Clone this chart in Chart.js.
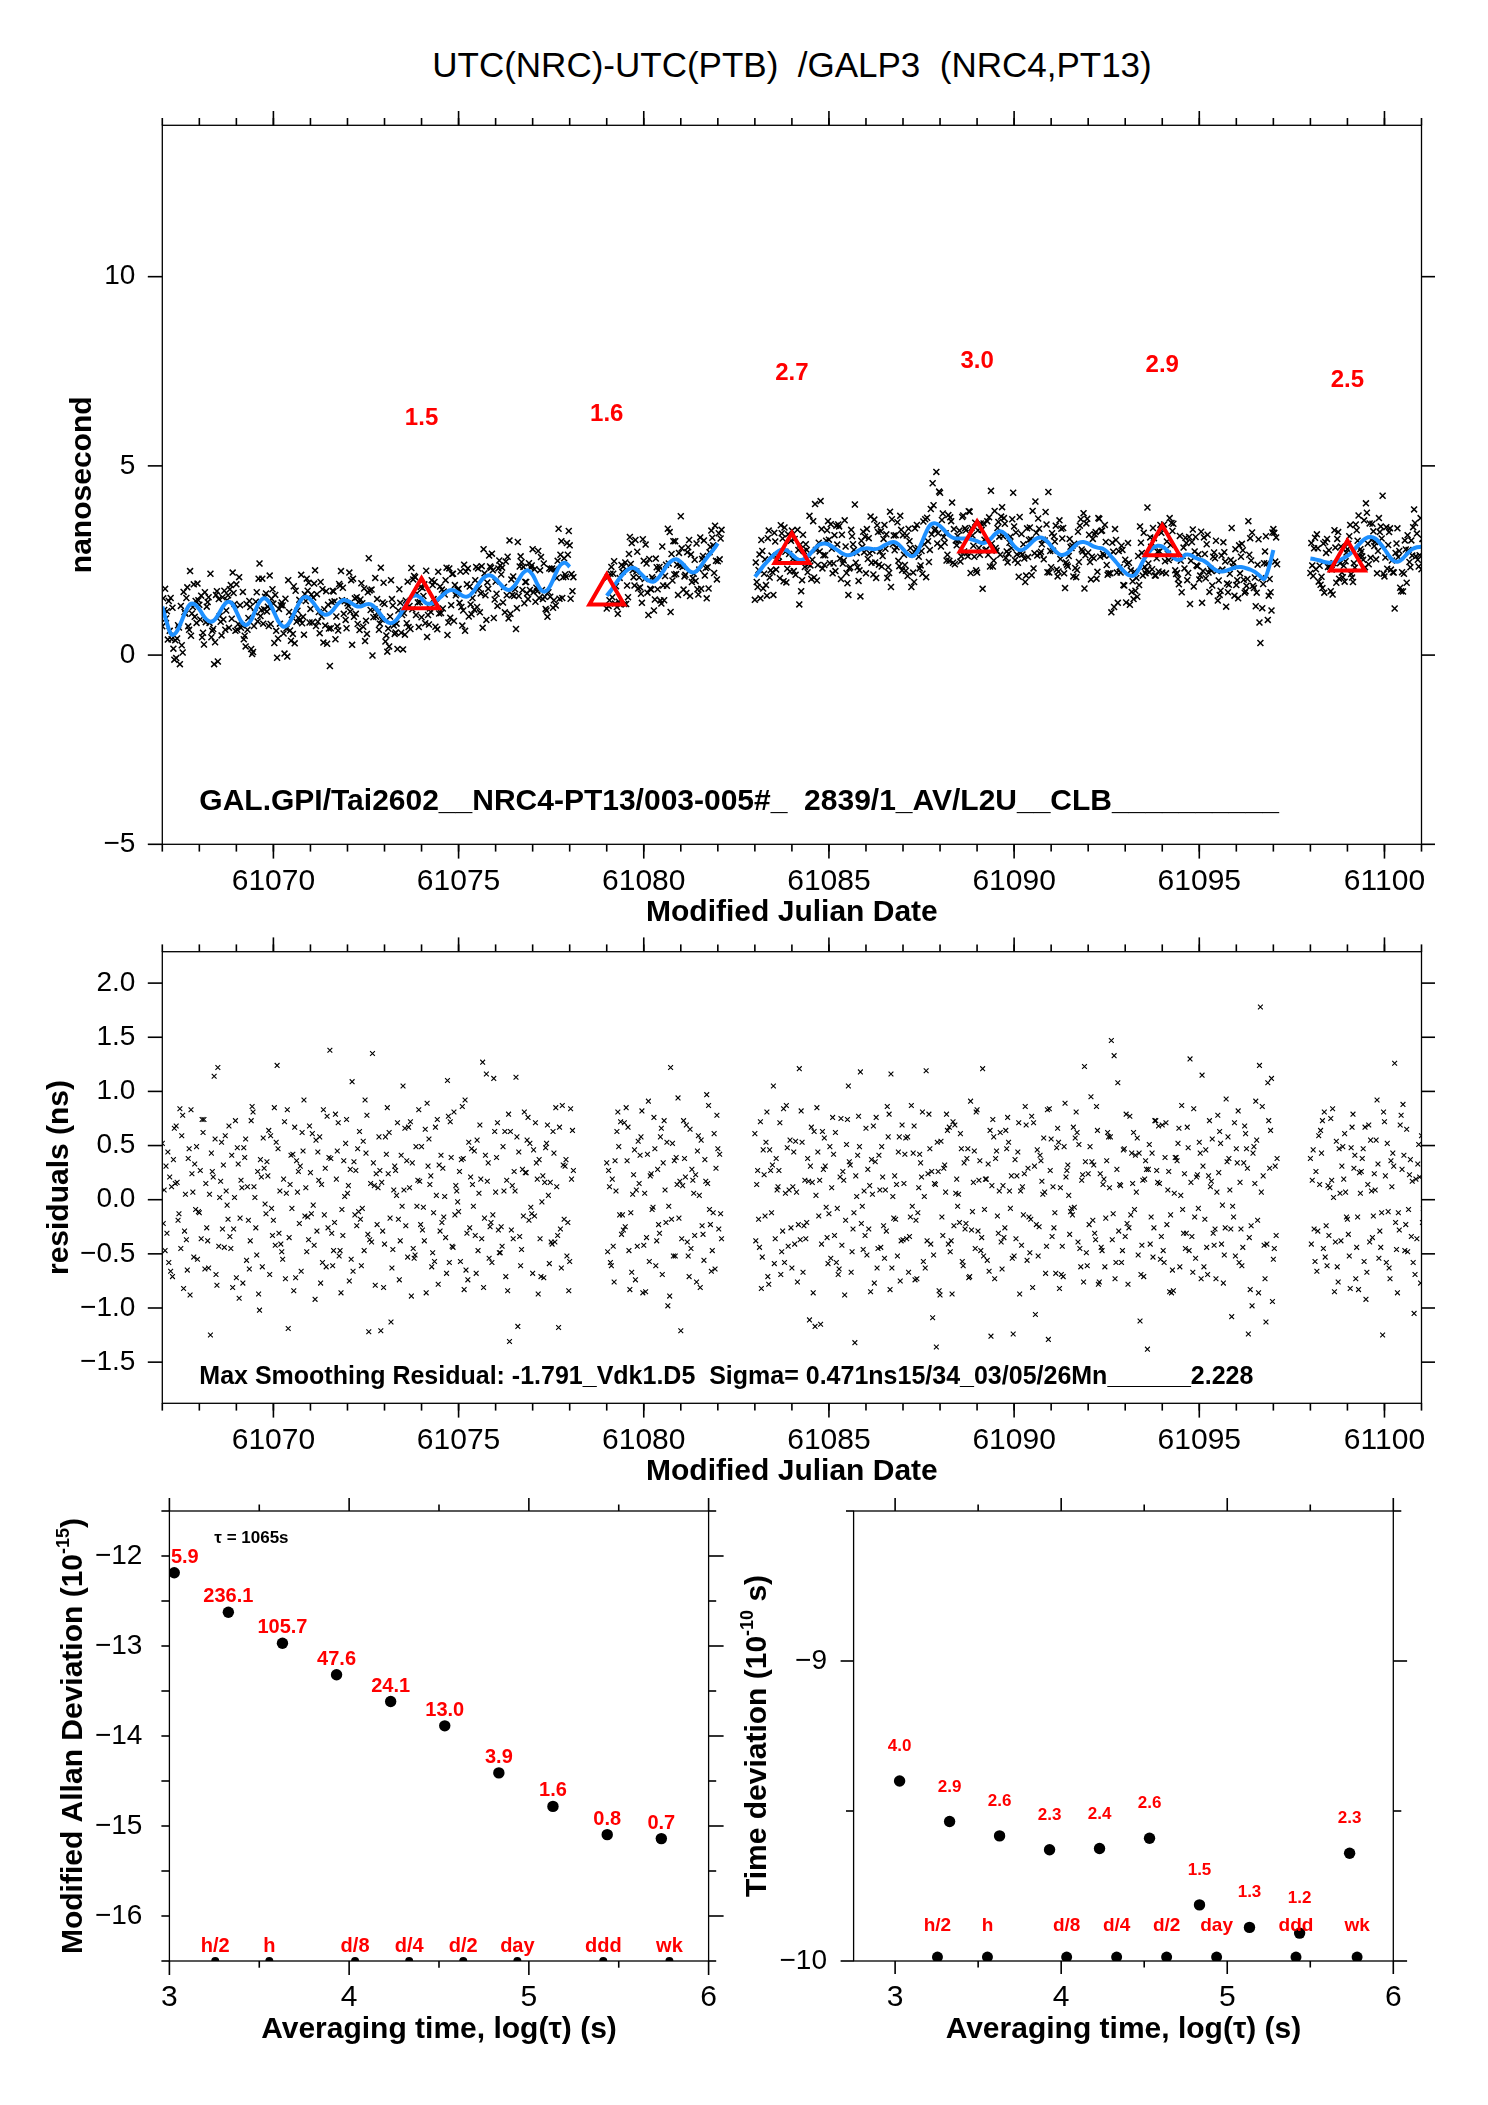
<!DOCTYPE html>
<html>
<head>
<meta charset="utf-8">
<title>UTC(NRC)-UTC(PTB) /GALP3 (NRC4,PT13)</title>
<script src="https://cdn.jsdelivr.net/npm/chart.js@4.4.1/dist/chart.umd.min.js"></script>
<style>
  html, body { margin:0; padding:0; background:#fff; }
  body { width:1488px; height:2105px; position:relative; overflow:hidden; }
  canvas { position:absolute; }
  #title { position:absolute; left:162px; width:1260px; top:47px; height:35px; line-height:35px;
           text-align:center; font-size:35px; font-family:'Liberation Sans', Arial, Helvetica, sans-serif;
           white-space:pre; color:#000; }
</style>
</head>
<body>
<div id="title">UTC(NRC)-UTC(PTB)  /GALP3  (NRC4,PT13)</div>
<canvas id="c1" width="1488" height="850" style="left:0;top:95px"></canvas>
<canvas id="c2" width="1488" height="565" style="left:0;top:925px"></canvas>
<canvas id="c3" width="730" height="615" style="left:0;top:1490px"></canvas>
<canvas id="c4" width="758" height="615" style="left:730px;top:1490px"></canvas>
<script>
const FF = "'Liberation Sans', Arial, Helvetica, sans-serif";

// ---------------- DATA ----------------
// MJD segments of the data (gaps in between) and sampling step (days)
const mjdSegments = [[61067, 61078], [61079, 61082], [61083, 61097], [61098, 61101]];
const knotStep = 0.125;
const subOffsets = [0, 0.025, 0.05, 0.075, 0.1];   // x offsets (days) of the five residual series

// smoothed curve (ns) read at every knot, segment by segment
const smoothNs = [
  // 61067.000 - 61078.000
  1.28,0.85,0.54,0.60,0.85,1.14,1.34,1.34,
  1.21,1.02,0.90,0.90,1.05,1.26,1.40,1.37,
  1.15,0.90,0.79,0.89,1.15,1.40,1.50,1.41,
  1.17,0.91,0.76,0.79,0.98,1.24,1.46,1.54,
  1.47,1.32,1.16,1.07,1.09,1.21,1.36,1.45,
  1.43,1.36,1.29,1.29,1.34,1.34,1.25,1.10,
  0.94,0.85,0.87,1.00,1.20,1.41,1.55,1.57,
  1.49,1.37,1.36,1.42,1.52,1.63,1.71,1.71,
  1.64,1.56,1.55,1.65,1.82,1.99,2.09,2.10,
  2.01,1.88,1.76,1.72,1.82,2.00,2.18,2.24,
  2.12,1.88,1.70,1.70,1.88,2.16,2.38,2.44,
  2.33,
  // 61079.000 - 61082.000
  1.57,1.72,1.90,2.06,2.20,2.29,2.30,2.20,
  2.07,1.97,1.94,2.02,2.18,2.36,2.49,2.53,
  2.46,2.33,2.21,2.19,2.30,2.47,2.63,2.78,
  2.95,
  // 61083.000 - 61097.000
  2.07,2.22,2.38,2.51,2.64,2.74,2.79,2.76,
  2.66,2.55,2.51,2.57,2.68,2.82,2.92,2.95,
  2.92,2.84,2.76,2.68,2.64,2.66,2.73,2.80,
  2.82,2.81,2.80,2.83,2.90,2.96,2.99,2.93,
  2.80,2.67,2.61,2.71,2.96,3.25,3.45,3.48,
  3.41,3.29,3.16,3.09,3.08,3.08,3.08,3.05,
  3.01,2.96,2.98,3.08,3.21,3.27,3.21,3.05,
  2.88,2.78,2.79,2.88,3.00,3.09,3.10,3.02,
  2.88,2.74,2.65,2.66,2.75,2.87,2.97,2.99,
  2.95,2.88,2.84,2.82,2.74,2.60,2.46,2.31,
  2.18,2.10,2.11,2.28,2.52,2.70,2.83,2.89,
  2.87,2.77,2.63,2.53,2.53,2.65,2.65,2.58,
  2.53,2.49,2.40,2.29,2.22,2.21,2.24,2.28,
  2.32,2.33,2.30,2.26,2.20,2.10,2.01,2.30,
  2.78,
  // 61098.000 - 61101.000
  2.55,2.53,2.50,2.46,2.44,2.45,2.49,2.55,
  2.62,2.72,2.86,2.99,3.09,3.12,3.08,2.96,
  2.80,2.62,2.49,2.47,2.56,2.69,2.80,2.85,
  2.86
];

// smoothing residuals (ns) = smooth - measurement, five interleaved series
const residA = [
  0.52,-0.31,0.12,0.68,-0.45,0.05,-0.88,0.33,
  -0.12,0.74,-0.63,0.21,1.22,-0.27,-0.05,0.41,
  -0.72,0.18,0.56,-0.38,0.02,-1.02,0.29,0.64,
  -0.19,0.47,-0.55,0.83,-0.08,0.36,-0.66,0.11,
  0.25,-0.92,0.58,-0.14,0.39,-0.47,0.71,-0.33,
  0.06,1.09,-0.24,-0.61,0.43,0.15,-0.79,0.27,
  -0.41,0.62,0.09,-0.18,1.05,-0.53,0.34,-0.06,
  0.49,-0.86,0.22,0.67,-0.29,0.03,-0.58,0.81,
  -0.11,0.38,-0.74,0.14,0.55,-0.36,1.16,-0.21,
  0.07,-0.49,0.63,-1.31,0.26,0.44,-0.15,0.76,
  -0.68,0.19,-0.02,0.52,-0.39,0.85,-0.27,0.31,
  -0.57,
  0.34,-0.61,0.08,0.72,-0.25,-0.83,0.46,0.15,
  -0.42,0.91,-0.07,0.28,-0.69,0.53,-0.18,0.39,
  -1.21,0.21,0.65,-0.33,0.04,-0.56,0.87,-0.12,
  0.47,
  0.61,-0.44,0.23,-0.78,1.05,0.12,-0.29,0.48,
  -0.63,0.07,0.82,-0.36,0.31,-1.17,0.18,0.57,
  -0.13,0.42,-0.69,0.26,0.74,-0.48,0.03,-0.22,
  0.66,-0.85,0.35,0.09,-0.54,0.79,-0.17,0.44,
  -0.37,0.58,-0.06,-0.73,0.21,1.19,-0.41,0.14,
  -0.88,0.32,0.67,-0.24,0.05,-0.61,0.47,-0.11,
  0.83,-0.35,0.19,-1.26,0.38,0.62,-0.26,0.08,
  -0.52,0.71,-0.14,0.29,-0.81,0.46,0.17,-0.43,
  0.56,-0.68,0.11,0.89,-0.32,-0.07,0.51,-0.76,
  0.24,-0.19,0.64,-0.47,0.36,1.47,-0.58,0.13,
  -0.34,0.77,-0.09,0.43,-0.71,0.28,-0.53,0.16,
  0.69,-0.23,-0.86,0.39,0.04,-0.45,1.30,-0.16,
  0.53,-0.62,0.22,-0.31,0.78,-0.05,0.35,-1.08,
  0.47,-0.27,0.61,-0.83,0.15,1.24,-0.42,0.73,
  -0.55,
  0.38,-0.57,0.14,0.81,-0.33,0.02,-0.76,0.49,
  -0.18,0.67,-0.44,0.26,-0.92,0.55,0.09,-0.29,
  0.72,-0.63,0.31,-0.12,0.88,-0.48,0.17,-0.36,
  0.59
];
const residB = [
  -0.22,0.44,-0.71,0.16,0.59,-0.37,0.83,-0.09,
  0.27,-0.64,0.05,1.14,-0.43,0.32,-0.18,-0.81,
  0.48,0.11,-0.56,0.73,-0.26,0.37,-0.04,-0.69,
  0.85,-0.31,0.19,-1.19,0.42,0.07,0.62,-0.48,
  -0.13,0.55,-0.77,0.29,1.38,-0.21,-0.52,0.36,
  0.13,-0.66,0.47,-0.08,0.78,-0.39,0.24,-1.21,
  0.58,-0.17,0.31,-0.74,0.09,0.67,-0.45,0.18,
  -0.28,0.89,-0.62,0.04,0.41,-0.35,0.72,-0.14,
  0.26,-0.83,0.53,-0.06,-0.47,1.27,0.17,-0.58,
  0.39,-0.25,-0.71,0.63,0.08,-0.34,0.81,-0.19,
  0.46,-0.87,0.22,0.69,-0.41,0.12,-0.63,0.37,
  0.84,
  -0.48,0.19,0.63,-0.32,0.85,-0.12,-0.74,0.41,
  0.06,-0.57,0.76,-0.23,0.34,-0.98,0.52,0.14,
  -0.36,0.69,-0.45,0.23,-0.81,0.37,-0.09,0.61,
  -0.27,
  -0.38,0.72,-0.15,0.46,-0.59,0.27,0.84,-0.43,
  0.12,-0.76,0.53,-0.21,0.67,0.04,-1.15,0.31,
  0.49,-0.33,-0.64,0.18,1.05,-0.27,0.41,-0.06,
  -0.51,0.37,0.76,-0.44,0.09,-0.83,0.22,0.58,
  0.15,-0.67,0.43,-0.12,0.81,-0.38,0.26,-1.36,
  0.54,0.07,-0.48,0.69,-0.21,0.34,-0.72,0.16,
  -0.29,1.21,-0.56,0.13,0.45,-0.39,0.64,-0.08,
  0.37,-0.87,0.24,-0.16,0.71,-0.52,0.05,0.83,
  -0.34,0.48,-0.69,0.21,-0.11,0.57,-0.45,1.23,
  -0.23,0.32,-0.78,0.14,0.62,-0.37,0.28,-0.58,
  0.79,-0.14,0.41,-1.12,0.19,0.51,-0.26,0.68,
  -0.47,0.09,-0.65,0.36,0.87,-0.31,0.16,-0.54,
  0.43,-0.18,0.73,-0.42,0.25,-0.77,0.58,-0.06,
  0.34,-0.61,0.47,-0.24,0.91,1.78,-0.73,0.29,
  -0.45,
  -0.41,0.26,0.64,-0.53,0.11,-0.85,0.47,0.19,
  -0.32,0.79,-0.16,0.38,-0.67,0.08,0.55,-0.44,
  0.22,-0.73,1.26,-0.28,0.41,-0.09,-0.58,0.33,
  -0.21
];
const residC = [
  0.09,-0.58,0.37,-0.19,0.78,-0.65,0.24,0.49,
  -0.36,0.15,-1.25,0.56,0.02,-0.44,0.68,-0.27,
  0.33,-0.77,0.12,0.86,-0.51,0.21,-0.13,0.59,
  -0.42,0.08,0.72,-0.35,-0.84,0.26,0.45,-0.16,
  0.61,-0.29,0.14,-0.62,0.38,0.79,-0.47,0.03,
  -0.75,0.35,-0.11,0.54,-0.32,1.35,-0.23,0.16,
  0.42,-1.13,0.27,-0.38,0.66,0.11,-0.54,0.83,
  -0.07,0.31,-0.49,0.74,-0.21,-0.68,0.39,0.13,
  -0.57,0.92,-0.26,0.45,0.06,-0.81,0.34,-0.14,
  0.71,-0.43,0.18,-0.28,1.13,-0.61,0.25,0.52,
  -0.15,0.37,-0.72,0.04,0.63,-0.33,0.87,-0.52,
  0.19,
  0.27,-0.43,0.81,-0.14,0.36,-0.67,0.09,0.58,
  -0.85,0.22,0.47,-0.31,0.73,-0.06,-0.52,0.94,
  0.13,-0.39,0.28,-0.76,0.55,0.17,-0.23,-0.64,
  0.42,
  0.14,-0.82,0.53,0.27,-0.36,0.71,-0.58,0.09,
  0.44,-0.23,-0.67,0.38,0.16,0.85,-0.41,-0.07,
  -0.54,0.62,0.21,-0.88,0.35,-0.12,0.77,-0.46,
  0.28,0.05,-0.63,0.49,-0.29,1.16,-0.18,-0.75,
  0.42,-0.34,0.68,0.11,-0.57,0.24,-1.09,0.53,
  -0.16,0.79,-0.38,0.06,0.61,-0.27,-0.71,0.45,
  0.18,-0.52,0.33,0.74,-0.15,-0.64,0.47,0.22,
  -0.36,0.08,0.86,-0.49,0.31,-0.25,0.57,-1.29,
  0.12,0.66,-0.43,0.27,-0.08,0.81,-0.62,0.35,
  0.49,-0.31,-0.76,0.19,0.58,-0.13,1.08,-0.47,
  -0.22,0.43,0.07,-0.69,0.36,-0.41,0.73,0.15,
  -0.58,0.26,-0.84,0.52,-0.09,0.67,-0.34,0.21,
  -0.73,0.46,0.12,-0.27,0.63,-0.51,0.38,-0.16,
  0.82,-0.44,0.29,-0.98,0.55,0.07,-1.13,0.64,
  0.31,
  0.18,-0.66,0.43,-0.24,0.75,-0.39,0.06,0.61,
  -0.52,0.29,-0.83,0.47,0.14,-0.35,0.92,-0.12,
  -0.58,0.36,-0.21,0.69,-0.47,0.23,-1.05,0.51,
  -0.08
];
const residD = [
  -0.47,0.21,0.66,-0.13,-0.82,0.38,0.07,-0.55,
  0.74,-0.26,0.43,-0.69,0.17,0.59,-0.34,0.02,
  -0.91,0.48,-0.19,0.81,0.26,-0.62,0.35,-0.08,
  0.53,-0.41,-0.73,0.14,0.67,-0.22,0.92,-0.37,
  -0.05,0.44,-0.58,0.77,-0.31,0.19,-0.86,0.52,
  0.28,-0.14,0.63,-0.47,-1.22,0.34,0.11,-0.29,
  0.85,-0.63,0.04,0.41,-0.24,0.72,-0.51,0.17,
  -0.38,0.56,-0.12,-0.78,0.29,1.10,-0.43,0.08,
  0.37,-0.65,0.21,-0.33,0.69,-0.17,-0.54,1.12,
  -0.28,0.49,-0.84,0.13,0.58,-0.46,0.25,-0.07,
  0.71,-0.36,0.16,-0.59,0.43,-1.18,0.32,-0.21,
  0.64,
  0.12,-0.76,0.49,-0.28,0.67,0.05,-0.43,0.82,
  -0.35,0.24,-0.61,0.58,0.09,-0.89,0.36,-0.17,
  0.73,-0.52,0.18,0.45,-0.24,0.97,-0.66,0.29,
  -0.13,
  0.27,-0.53,0.81,-0.12,0.38,-0.69,0.06,0.55,
  -0.41,1.21,-0.24,0.17,-0.86,0.44,0.63,-0.35,
  0.11,-0.58,0.75,-0.19,0.32,-1.32,0.49,0.08,
  -0.27,0.68,-0.45,0.21,0.86,-0.63,0.14,-0.38,
  0.57,-0.16,-0.74,0.42,0.03,0.79,-0.51,0.26,
  -0.33,0.64,-0.87,0.19,0.47,-0.22,0.91,-0.45,
  0.36,-0.09,-0.66,0.58,-0.31,0.13,0.76,-0.54,
  0.22,-0.42,0.69,-0.18,-1.06,0.41,0.07,0.84,
  -0.26,0.53,-0.71,0.32,-0.14,0.62,0.18,-0.49,
  0.95,-0.37,0.24,-0.62,0.11,1.33,-0.29,0.46,
  -0.78,0.15,0.57,-0.42,0.28,-0.16,0.73,-0.55,
  0.39,-0.85,0.06,0.66,-0.31,0.48,-0.67,0.23,
  1.15,-0.44,0.17,-0.73,0.52,-0.26,0.09,0.71,
  -0.58,0.34,-1.24,0.43,-0.19,0.86,-0.41,1.12,
  -0.33,
  0.46,-0.29,0.73,-0.61,0.18,0.54,-0.38,0.07,
  -0.82,0.41,0.25,-0.57,0.69,-0.15,0.33,-1.25,
  0.52,0.12,-0.46,0.78,-0.23,0.37,-0.69,0.21,
  0.04
];
const residE = [
  0.31,-0.66,0.15,0.84,-0.29,0.47,-0.53,-0.11,
  0.62,-0.38,0.26,-0.79,0.53,0.08,-0.45,0.73,
  -0.17,0.39,-0.64,0.12,-0.87,0.57,0.22,-0.33,
  1.24,-0.48,0.06,0.41,-0.72,0.31,-0.15,0.68,
  -0.42,0.18,0.83,-0.26,-0.61,0.45,-0.09,0.74,
  -0.55,0.27,-0.18,0.92,-0.37,0.13,0.58,-0.81,
  0.24,-0.46,0.71,-0.06,0.36,-0.89,0.49,-0.23,
  0.65,0.14,-0.57,0.32,-0.16,0.77,-0.44,-0.02,
  0.86,-0.31,0.47,-0.68,0.19,0.41,-0.25,0.63,
  -0.49,0.08,0.79,-0.36,-1.17,0.28,0.55,-0.13,
  0.34,-0.71,0.48,0.16,-0.39,0.67,-0.18,-0.84,
  0.27,
  -0.58,0.36,-0.14,0.71,-0.47,0.23,0.54,-0.86,
  0.42,-0.09,-0.38,0.66,-0.21,1.22,-0.52,0.17,
  0.38,-0.71,0.06,0.59,-0.32,0.15,-0.47,0.78,
  -0.36,
  -0.18,0.46,-0.71,0.32,0.09,-0.48,0.87,-0.26,
  0.54,-0.37,0.18,-1.11,0.63,-0.15,0.28,-0.59,
  0.76,-0.08,-0.42,0.51,-0.67,0.22,1.18,-0.33,
  0.13,-0.77,0.41,-0.24,0.58,0.03,-0.52,0.69,
  -0.36,0.87,-0.19,0.34,-0.63,0.47,0.15,-0.84,
  0.29,-0.41,0.72,-0.06,-0.57,0.38,-0.28,0.81,
  -0.47,0.19,0.64,-0.73,0.08,-0.35,0.53,-1.24,
  0.44,0.12,-0.56,0.77,-0.23,0.36,-0.68,0.27,
  -0.12,-0.82,0.49,0.04,0.67,-0.39,0.23,-0.61,
  0.35,0.86,-0.44,-0.17,0.58,-0.73,0.14,0.47,
  -0.26,0.62,-0.51,0.18,-1.38,0.43,0.27,-0.34,
  0.71,-0.14,0.39,-0.62,0.24,-0.47,0.84,-0.08,
  0.31,-0.69,0.56,0.07,-0.41,0.93,-0.27,-0.52,
  0.16,0.68,-0.35,0.49,-0.86,0.22,1.08,-0.94,
  0.38,
  -0.27,0.59,-0.45,0.13,0.84,-0.62,0.31,-0.16,
  0.48,-0.73,0.06,0.67,-0.39,0.24,-0.54,0.81,
  -0.11,0.43,-0.86,0.28,0.65,-0.34,0.19,-0.77,
  0.45
];

// red triangles (5-day means) and their labels
const triMJD = [61074, 61079, 61084, 61089, 61094, 61099];
const triNs = [1.5, 1.6, 2.7, 3.0, 2.9, 2.5];
const triLabels = ['1.5', '1.6', '2.7', '3.0', '2.9', '2.5'];

// tick values
const mjdMajorTicks = [61070, 61075, 61080, 61085, 61090, 61095, 61100];
const topYTicks = [-5, 0, 5, 10];
const residYTicks = [-1.5, -1.0, -0.5, 0.0, 0.5, 1.0, 1.5, 2.0];
const logTauTicks = [3, 4, 5, 6];
const mdevYTicks = [-12, -13, -14, -15, -16];
const tdevYTicks = [-9, -10];

// stability analysis
const logTau = [3.027, 3.328, 3.629, 3.930, 4.231, 4.532, 4.833, 5.134, 5.436, 5.737];
const mdevLog = [-12.186, -12.625, -12.970, -13.320, -13.617, -13.887, -14.410, -14.782, -15.096, -15.140];
const mdevLabels = ['5.9', '236.1', '105.7', '47.6', '24.1', '13.0', '3.9', '1.6', '0.8', '0.7'];
const tdevLog = [-9.400, -9.535, -9.583, -9.629, -9.625, -9.591, -9.813, -9.888, -9.907, -9.641];
const tdevLabels = ['4.0', '2.9', '2.6', '2.3', '2.4', '2.6', '1.5', '1.3', '1.2', '2.3'];
const markLog = [3.255, 3.556, 4.033, 4.334, 4.635, 4.936, 5.414, 5.782];
const markNames = ['h/2', 'h', 'd/8', 'd/4', 'd/2', 'day', 'ddd', 'wk'];

const annTop = 'GAL.GPI/Tai2602__NRC4-PT13/003-005#_  2839/1_AV/L2U__CLB__________';
const annRes = 'Max Smoothing Residual: -1.791_Vdk1.D5  Sigma= 0.471ns15/34_03/05/26Mn______2.228';

// ---------------- BUILD ----------------
function range(a, b, s) { const r = []; for (let v = a; v <= b + 1e-9; v += s) r.push(+v.toFixed(6)); return r; }
function minusFmt(v, digits) {
  const s = digits == null ? String(Math.abs(v)) : Math.abs(v).toFixed(digits);
  return (v < -1e-9 ? '\u2212' : '') + s;
}

const knotMJD = [];
const lineSets = [];
mjdSegments.forEach(([a, b]) => {
  const pts = [];
  range(a, b, knotStep).forEach(t => {
    const i = knotMJD.length;
    knotMJD.push(t);
    if (i < smoothNs.length) pts.push({ x: t, y: smoothNs[i] });
  });
  lineSets.push(pts);
});

const topPts = [], resPts = [];
[residA, residB, residC, residD, residE].forEach((r, k) => {
  const n = Math.min(r.length, smoothNs.length, knotMJD.length);
  for (let i = 0; i < n; i++) {
    const x = knotMJD[i] + subOffsets[k];
    topPts.push({ x, y: smoothNs[i] - r[i] });
    resPts.push({ x, y: r[i] });
  }
});

// ---------------- DECORATION PLUGIN ----------------
const decorCfg = {};
const decor = {
  id: 'decor',
  afterDraw(chart) {
    const o = decorCfg[chart.canvas.id];
    if (!o) return;
    const { ctx, chartArea: ca } = chart;
    const xs = chart.scales.x, ys = chart.scales.y;
    ctx.save();
    ctx.strokeStyle = '#000';
    ctx.lineCap = 'butt';
    ctx.lineWidth = 1.3;
    ctx.strokeRect(ca.left, ca.top, ca.right - ca.left, ca.bottom - ca.top);
    ctx.lineWidth = 1.6;
    (o.ticks || []).forEach(t => {
      t.values.forEach(v => {
        ctx.beginPath();
        if (t.side === 'top' || t.side === 'bottom') {
          const px = xs.getPixelForValue(v);
          const y0 = t.side === 'top' ? ca.top : ca.bottom;
          const dir = t.side === 'top' ? -1 : 1;
          ctx.moveTo(px, y0); ctx.lineTo(px, y0 + dir * t.len);
        } else {
          const py = ys.getPixelForValue(v);
          const x0 = t.side === 'left' ? ca.left : ca.right;
          const dir = t.side === 'left' ? -1 : 1;
          ctx.moveTo(x0, py); ctx.lineTo(x0 + dir * t.len, py);
        }
        ctx.stroke();
      });
    });
    (o.texts || []).forEach(t => {
      ctx.font = t.font; ctx.fillStyle = t.color || '#000';
      let align = t.align || 'left';
      let px = xs.getPixelForValue(t.x) + (t.dx || 0);
      const py = ys.getPixelForValue(t.y) + (t.dy || 0);
      if (t.clamp && align === 'center') {
        const w = ctx.measureText(t.text).width;
        if (px - w / 2 < ca.left + 1.5) { px = ca.left + 1.5; align = 'left'; }
      }
      ctx.textAlign = align; ctx.textBaseline = t.baseline || 'alphabetic';
      ctx.fillText(t.text, px, py);
    });
    if (o.richTitle) {
      const rt = o.richTitle;
      const mainFont = `bold ${rt.size}px ${FF}`, supFont = `bold ${rt.supSize}px ${FF}`;
      let total = 0;
      const widths = rt.parts.map(p => { ctx.font = p.sup ? supFont : mainFont; const w = ctx.measureText(p.text).width; total += w; return w; });
      ctx.translate(rt.x, (ca.top + ca.bottom) / 2);
      ctx.rotate(-Math.PI / 2);
      ctx.textBaseline = 'middle'; ctx.textAlign = 'left'; ctx.fillStyle = '#000';
      let cx = -total / 2;
      rt.parts.forEach((p, i) => { ctx.font = p.sup ? supFont : mainFont; ctx.fillText(p.text, cx, p.sup ? -rt.supRaise : 0); cx += widths[i]; });
    }
    ctx.restore();
  }
};
Chart.register(decor);

function zeroPad(s) { s.paddingTop = 0; s.paddingBottom = 0; s.paddingLeft = 0; s.paddingRight = 0; }
function xScale(o) {
  return {
    type: 'linear', position: 'bottom', min: o.min, max: o.max,
    afterFit: s => { s.height = o.h; zeroPad(s); },
    afterBuildTicks: s => { s.ticks = o.ticks.map(v => ({ value: v })); },
    grid: { display: false, drawTicks: false }, border: { display: false },
    ticks: { autoSkip: false, maxRotation: 0, minRotation: 0, padding: o.pad, color: '#000',
             font: { size: 30, family: FF, lineHeight: 1.2 }, callback: v => o.fmt(v) },
    title: { display: true, text: o.title, color: '#000', font: { size: 30, weight: 'bold', family: FF, lineHeight: 1.2 },
             padding: { top: 0, bottom: o.titlePad } }
  };
}
function yScale(o) {
  return {
    type: 'linear', position: 'left', min: o.min, max: o.max,
    afterFit: s => { s.width = o.w; zeroPad(s); },
    afterBuildTicks: s => { s.ticks = o.ticks.map(v => ({ value: v })); },
    grid: { display: false, drawTicks: false }, border: { display: false },
    ticks: { autoSkip: false, padding: o.pad, color: '#000', font: { size: 28, family: FF, lineHeight: 1.2 },
             callback: v => o.fmt(v) },
    title: { display: !!o.title, text: o.title || '', color: '#000', font: { size: 30, weight: 'bold', family: FF, lineHeight: 1.2 },
             padding: { top: o.titlePad || 0, bottom: 0 } }
  };
}
function baseOpts(pad, scales) {
  return {
    responsive: false, devicePixelRatio: 1, animation: false,
    layout: { padding: pad },
    plugins: { legend: { display: false }, tooltip: { enabled: false } },
    events: [],
    scales
  };
}

const mjdMinor = range(61067, 61101, 1);

// ---------- chart 1 : time series ----------
decorCfg.c1 = {
  ticks: [
    { side: 'top', values: mjdMajorTicks, len: 14.3 }, { side: 'top', values: mjdMinor, len: 7.3 },
    { side: 'bottom', values: mjdMajorTicks, len: 14.3 }, { side: 'bottom', values: mjdMinor, len: 7.3 },
    { side: 'left', values: topYTicks, len: 14.5 }, { side: 'right', values: topYTicks, len: 13.5 }
  ],
  texts: triMJD.map((x, i) => ({ x, y: triNs[i], dy: -180, text: triLabels[i], font: `bold 24px ${FF}`,
                                 color: '#ff0000', align: 'center', baseline: 'middle' }))
    .concat([{ x: 61068, y: -4.1, text: annTop, font: `bold 30px ${FF}`, color: '#000', align: 'left', baseline: 'alphabetic' }])
};
new Chart(document.getElementById('c1'), {
  type: 'scatter',
  data: { datasets: [
    { data: triMJD.map((x, i) => ({ x, y: triNs[i] })), pointStyle: 'triangle', pointRadius: 20,
      pointBorderWidth: 4, pointBorderColor: '#ff0000', pointBackgroundColor: 'rgba(0,0,0,0)' },
    ...lineSets.map(pts => ({ data: pts, showLine: true, borderColor: '#1e90ff', borderWidth: 4,
                              pointRadius: 0, tension: 0.4, fill: false })),
    { data: topPts, pointStyle: 'crossRot', pointRadius: 4.2, pointBorderWidth: 1.5,
      pointBorderColor: '#000', pointBackgroundColor: '#000' }
  ] },
  options: baseOpts({ left: 0, top: 30.3, right: 66.5, bottom: 0 }, {
    x: xScale({ min: 61067, max: 61101, h: 100.7, ticks: mjdMajorTicks, pad: 19.7, fmt: v => String(v),
                title: 'Modified Julian Date', titlePad: 14 }),
    y: yScale({ min: -5, max: 14, w: 162.3, ticks: topYTicks, pad: 27, fmt: v => minusFmt(v),
                title: 'nanosecond', titlePad: 65 })
  })
});

// ---------- chart 2 : residuals ----------
decorCfg.c2 = {
  ticks: [
    { side: 'top', values: mjdMajorTicks, len: 14.3 }, { side: 'top', values: mjdMinor, len: 7.3 },
    { side: 'bottom', values: mjdMajorTicks, len: 14.3 }, { side: 'bottom', values: mjdMinor, len: 7.3 },
    { side: 'left', values: residYTicks, len: 14.5 }, { side: 'right', values: residYTicks, len: 13.5 }
  ],
  texts: [{ x: 61068, y: -1.70, text: annRes, font: `bold 25px ${FF}`, color: '#000', align: 'left', baseline: 'alphabetic' }]
};
new Chart(document.getElementById('c2'), {
  type: 'scatter',
  data: { datasets: [
    { data: resPts, pointStyle: 'crossRot', pointRadius: 3.4, pointBorderWidth: 1.1,
      pointBorderColor: '#000', pointBackgroundColor: '#000' }
  ] },
  options: baseOpts({ left: 0, top: 26.7, right: 66.5, bottom: 0 }, {
    x: xScale({ min: 61067, max: 61101, h: 86.7, ticks: mjdMajorTicks, pad: 19.7, fmt: v => String(v),
                title: 'Modified Julian Date', titlePad: 0 }),
    y: yScale({ min: -1.88, max: 2.29, w: 162.3, ticks: residYTicks, pad: 27, fmt: v => minusFmt(v, 1),
                title: 'residuals (ns)', titlePad: 42 })
  })
});

// ---------- chart 3 : modified Allan deviation ----------
decorCfg.c3 = {
  ticks: [
    { side: 'top', values: logTauTicks, len: 13 }, { side: 'top', values: [3.5, 4.5, 5.5], len: 6.5 },
    { side: 'bottom', values: logTauTicks, len: 14 }, { side: 'bottom', values: [3.5, 4.5, 5.5], len: 6.7 },
    { side: 'left', values: range(-16.5, -11.5, 0.5), len: 8 },
    { side: 'right', values: mdevYTicks, len: 15 },
    { side: 'right', values: [-11.5, -12.5, -13.5, -14.5, -15.5, -16.5], len: 7.6 }
  ],
  texts: logTau.map((x, i) => ({ x, y: mdevLog[i], dy: -10, text: mdevLabels[i], font: `bold 20px ${FF}`,
                                 color: '#ff0000', align: 'center', baseline: 'alphabetic', clamp: true }))
    .concat(markLog.map((x, i) => ({ x, y: -16.5, dy: -8.7, text: markNames[i], font: `bold 20px ${FF}`,
                                     color: '#ff0000', align: 'center', baseline: 'alphabetic' })))
    .concat([{ x: 3.25, y: -11.856, text: '\u03c4 = 1065s', font: `bold 17px ${FF}`, color: '#000', align: 'left', baseline: 'alphabetic' }]),
  richTitle: { x: 74, size: 30, supSize: 18, supRaise: 10,
               parts: [{ text: 'Modified Allan Deviation (10' }, { text: '-15', sup: true }, { text: ')' }] }
};
new Chart(document.getElementById('c3'), {
  type: 'scatter',
  data: { datasets: [
    { data: logTau.map((x, i) => ({ x, y: mdevLog[i] })), pointRadius: 5.7, pointBorderWidth: 0,
      pointBackgroundColor: '#000' },
    { data: markLog.map(x => ({ x, y: -16.5 })), pointRadius: 4, pointBorderWidth: 0,
      pointBackgroundColor: '#000', clip: 0 }
  ] },
  options: baseOpts({ left: 0, top: 21, right: 21.4, bottom: 0 }, {
    x: xScale({ min: 3, max: 6, h: 144, ticks: logTauTicks, pad: 19, fmt: v => String(v),
                title: 'Averaging time, log(\u03c4) (s)', titlePad: 57 }),
    y: yScale({ min: -16.5, max: -11.5, w: 169.4, ticks: mdevYTicks, pad: 27, fmt: v => minusFmt(v) })
  })
});

// ---------- chart 4 : time deviation ----------
decorCfg.c4 = {
  ticks: [
    { side: 'top', values: logTauTicks, len: 13 }, { side: 'top', values: [3.5, 4.5, 5.5], len: 6.5 },
    { side: 'bottom', values: logTauTicks, len: 13 }, { side: 'bottom', values: [3.5, 4.5, 5.5], len: 6.5 },
    { side: 'left', values: tdevYTicks, len: 13 }, { side: 'left', values: [-8.5, -9.5], len: 7.6 },
    { side: 'right', values: tdevYTicks, len: 13.8 }, { side: 'right', values: [-8.5, -9.5], len: 8 }
  ],
  texts: logTau.map((x, i) => ({ x, y: tdevLog[i], dy: -30, text: tdevLabels[i], font: `bold 17px ${FF}`,
                                 color: '#ff0000', align: 'center', baseline: 'alphabetic' }))
    .concat(markLog.map((x, i) => ({ x, y: -10, dy: -30, text: markNames[i], font: `bold 19px ${FF}`,
                                     color: '#ff0000', align: 'center', baseline: 'alphabetic' }))),
  richTitle: { x: 28, size: 30, supSize: 18, supRaise: 10,
               parts: [{ text: 'Time deviation (10' }, { text: '-10', sup: true }, { text: ' s)' }] }
};
new Chart(document.getElementById('c4'), {
  type: 'scatter',
  data: { datasets: [
    { data: logTau.map((x, i) => ({ x, y: tdevLog[i] })), pointRadius: 5.7, pointBorderWidth: 0,
      pointBackgroundColor: '#000' },
    { data: markLog.map(x => ({ x, y: -9.987 })), pointRadius: 5.5, pointBorderWidth: 0,
      pointBackgroundColor: '#000', clip: 0 }
  ] },
  options: baseOpts({ left: 0, top: 21, right: 94.7, bottom: 0 }, {
    x: xScale({ min: 2.75, max: 6, h: 144, ticks: logTauTicks, pad: 19, fmt: v => String(v),
                title: 'Averaging time, log(\u03c4) (s)', titlePad: 57 }),
    y: yScale({ min: -10, max: -8.5, w: 123.6, ticks: tdevYTicks, pad: 26.6, fmt: v => minusFmt(v) })
  })
});
</script>
</body>
</html>
